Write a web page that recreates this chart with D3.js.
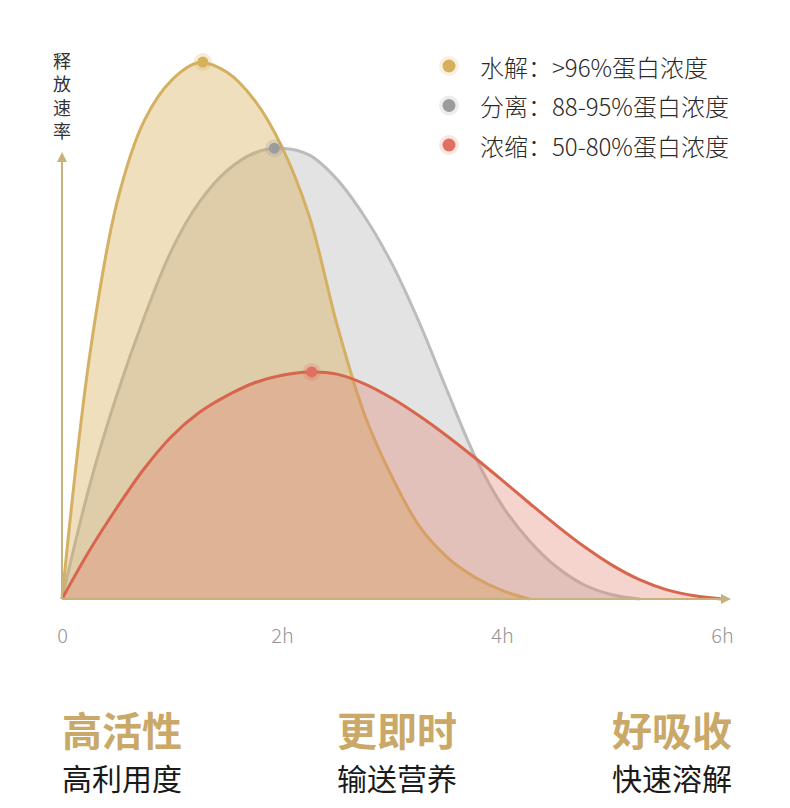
<!DOCTYPE html>
<html>
<head>
  <meta charset="utf-8" />
  <title>释放速率</title>
  <style>
    html, body { margin: 0; padding: 0; background: #fff; }
    svg { display: block; font-family: "Noto Sans CJK SC", "Noto Sans", sans-serif; }
  </style>
</head>
<body>
  <svg id="chart" width="790" height="808"></svg>

  <script src="https://cdn.jsdelivr.net/npm/d3@7/dist/d3.min.js"></script>
  <script>
    // time grid (hours) shared by all series
    var hours = [0, 0.25, 0.5, 0.75, 1, 1.25, 1.5, 1.75, 2, 2.25, 2.5, 2.75, 3,
                 3.25, 3.5, 3.75, 4, 4.25, 4.5, 4.75, 5, 5.25, 5.5, 5.75, 6]

    // release rate (peak of 水解 = 100)
    var hydroValues = [0, 45, 73.7, 89, 96.5, 99.7, 97.9, 92.7, 84, 71, 51, 34.3, 22.7,
                       13.5, 7.8, 4.1, 1.6, 0]
    var isolateValues = [0, 21, 38, 52.5, 65, 73.8, 79.6, 82.9, 83.8, 82.5, 78, 71.1, 62.3,
                         51.3, 38.8, 26.7, 17.4, 10.8, 5.9, 2.6, 0.8, 0]
    var concValues = [0, 9, 17, 24.3, 30.3, 34.7, 37.8, 40.2, 41.6, 42.2, 41.8, 40, 37.3,
                      34, 30.3, 26.3, 22.1, 17.8, 13.6, 9.7, 6.3, 3.6, 1.7, 0.6, 0]

    var peakHours = [1.28, 1.93, 2.27]
    var peakValues = [99.8, 83.8, 42.2]

    var legendLabels = ["水解：>96%蛋白浓度", "分离：88-95%蛋白浓度", "浓缩：50-80%蛋白浓度"]
    var tickValues = [0, 2, 4, 6]
    var tickLabels = ["0", "2h", "4h", "6h"]
    var yLabel = "释放速率"
    var titles = ["高活性", "更即时", "好吸收"]
    var subtitles = ["高利用度", "输送营养", "快速溶解"]

    var strokeColors = ["#d3b062", "#bdbcbc", "#d8654d"]
    var fillColors = ["rgba(214,169,74,0.37)", "rgba(182,178,178,0.37)", "rgba(222,130,108,0.34)"]
    var dotColors = ["#d6b05a", "#9c9c9c", "#df7160"]
    var axisColor = "#c9b17c"

    var svg = d3.select('#chart')

    var x = d3.scaleLinear().domain([0, 6]).range([62, 722])
    var y = d3.scaleLinear().domain([0, 100]).range([599, 61])

    var series = [hydroValues, isolateValues, concValues].map(function (vals, i) {
      return {
        idx: i,
        points: vals.map(function (v, j) { return [hours[j], v] })
      }
    })

    var area = d3.area()
      .x(function (d) { return x(d[0]) })
      .y0(y(0))
      .y1(function (d) { return Math.min(y(d[1]), y(0)) })
      .curve(d3.curveCatmullRom.alpha(0.5))
    var line = d3.line()
      .x(function (d) { return x(d[0]) })
      .y(function (d) { return y(d[1]) })
      .curve(d3.curveCatmullRom.alpha(0.5))

    // draw grey first, then yellow, then red on top
    var order = [1, 0, 2]
    var g = svg.append('g')
    order.forEach(function (i) {
      var s = series[i]
      g.append('path')
        .attr('d', area(s.points))
        .attr('fill', fillColors[i])
      g.append('path')
        .attr('d', line(s.points))
        .attr('fill', 'none')
        .attr('stroke', strokeColors[i])
        .attr('stroke-width', 3)
    })

    // axes with arrows
    svg.append('line')
      .attr('x1', x(0)).attr('y1', y(0))
      .attr('x2', x(0)).attr('y2', 160)
      .attr('stroke', axisColor).attr('stroke-width', 2)
    svg.append('path')
      .attr('d', 'M' + x(0) + ',152 l-5,10 l10,0 z')
      .attr('fill', axisColor)
    svg.append('line')
      .attr('x1', x(0)).attr('y1', y(0))
      .attr('x2', 724).attr('y2', y(0))
      .attr('stroke', axisColor).attr('stroke-width', 2)
    svg.append('path')
      .attr('d', 'M731,' + y(0) + ' l-10,-5 l0,10 z')
      .attr('fill', axisColor)

    // peak dots
    svg.append('g').selectAll('g')
      .data(peakHours)
      .enter()
      .append('g')
      .each(function (d, i) {
        var el = d3.select(this)
        el.append('circle')
          .attr('cx', x(d)).attr('cy', y(peakValues[i]))
          .attr('r', 9).attr('fill', dotColors[i]).attr('opacity', 0.25)
        el.append('circle')
          .attr('cx', x(d)).attr('cy', y(peakValues[i]))
          .attr('r', 5.5).attr('fill', dotColors[i])
      })

    // x tick labels
    var xAxis = d3.axisBottom(x)
      .tickValues(tickValues)
      .tickSize(0)
      .tickPadding(0)
      .tickFormat(function (d, i) { return tickLabels[i] })
    var axG = svg.append('g')
      .attr('transform', 'translate(0,' + 629 + ')')
      .call(xAxis)
    axG.select('.domain').remove()
    axG.selectAll('text')
      .attr('font-size', 20)
      .attr('font-weight', 300)
      .attr('fill', '#959595')
      .attr('font-family', '"Noto Sans CJK SC", sans-serif')

    // y label, written top to bottom
    svg.append('text')
      .attr('x', 62)
      .attr('y', 52)
      .style('writing-mode', 'vertical-rl')
      .style('letter-spacing', '5.5px')
      .attr('font-size', 18)
      .attr('fill', '#333')
      .text(yLabel)

    // legend
    var leg = svg.append('g').selectAll('g')
      .data(legendLabels)
      .enter()
      .append('g')
      .attr('transform', function (d, i) { return 'translate(449,' + (66 + i * 39.5) + ')' })
    leg.append('circle').attr('r', 10)
      .attr('fill', function (d, i) { return dotColors[i] }).attr('opacity', 0.18)
    leg.append('circle').attr('r', 6.5)
      .attr('fill', function (d, i) { return dotColors[i] })
    leg.append('text')
      .attr('x', 31)
      .attr('dominant-baseline', 'central')
      .attr('font-size', 24)
      .attr('font-weight', 300)
      .attr('fill', '#2a2a2a')
      .text(function (d) { return d })

    // bottom captions
    var colX = [62, 337, 612]
    svg.append('g').selectAll('text')
      .data(titles)
      .enter()
      .append('text')
      .attr('x', function (d, i) { return colX[i] })
      .attr('y', 729)
      .attr('dominant-baseline', 'central')
      .attr('font-size', 40)
      .attr('font-weight', 700)
      .attr('fill', '#c9a868')
      .text(function (d) { return d })
    svg.append('g').selectAll('text')
      .data(subtitles)
      .enter()
      .append('text')
      .attr('x', function (d, i) { return colX[i] })
      .attr('y', 777)
      .attr('dominant-baseline', 'central')
      .attr('font-size', 30)
      .attr('fill', '#1a1a1a')
      .text(function (d) { return d })
  </script>
</body>
</html>
